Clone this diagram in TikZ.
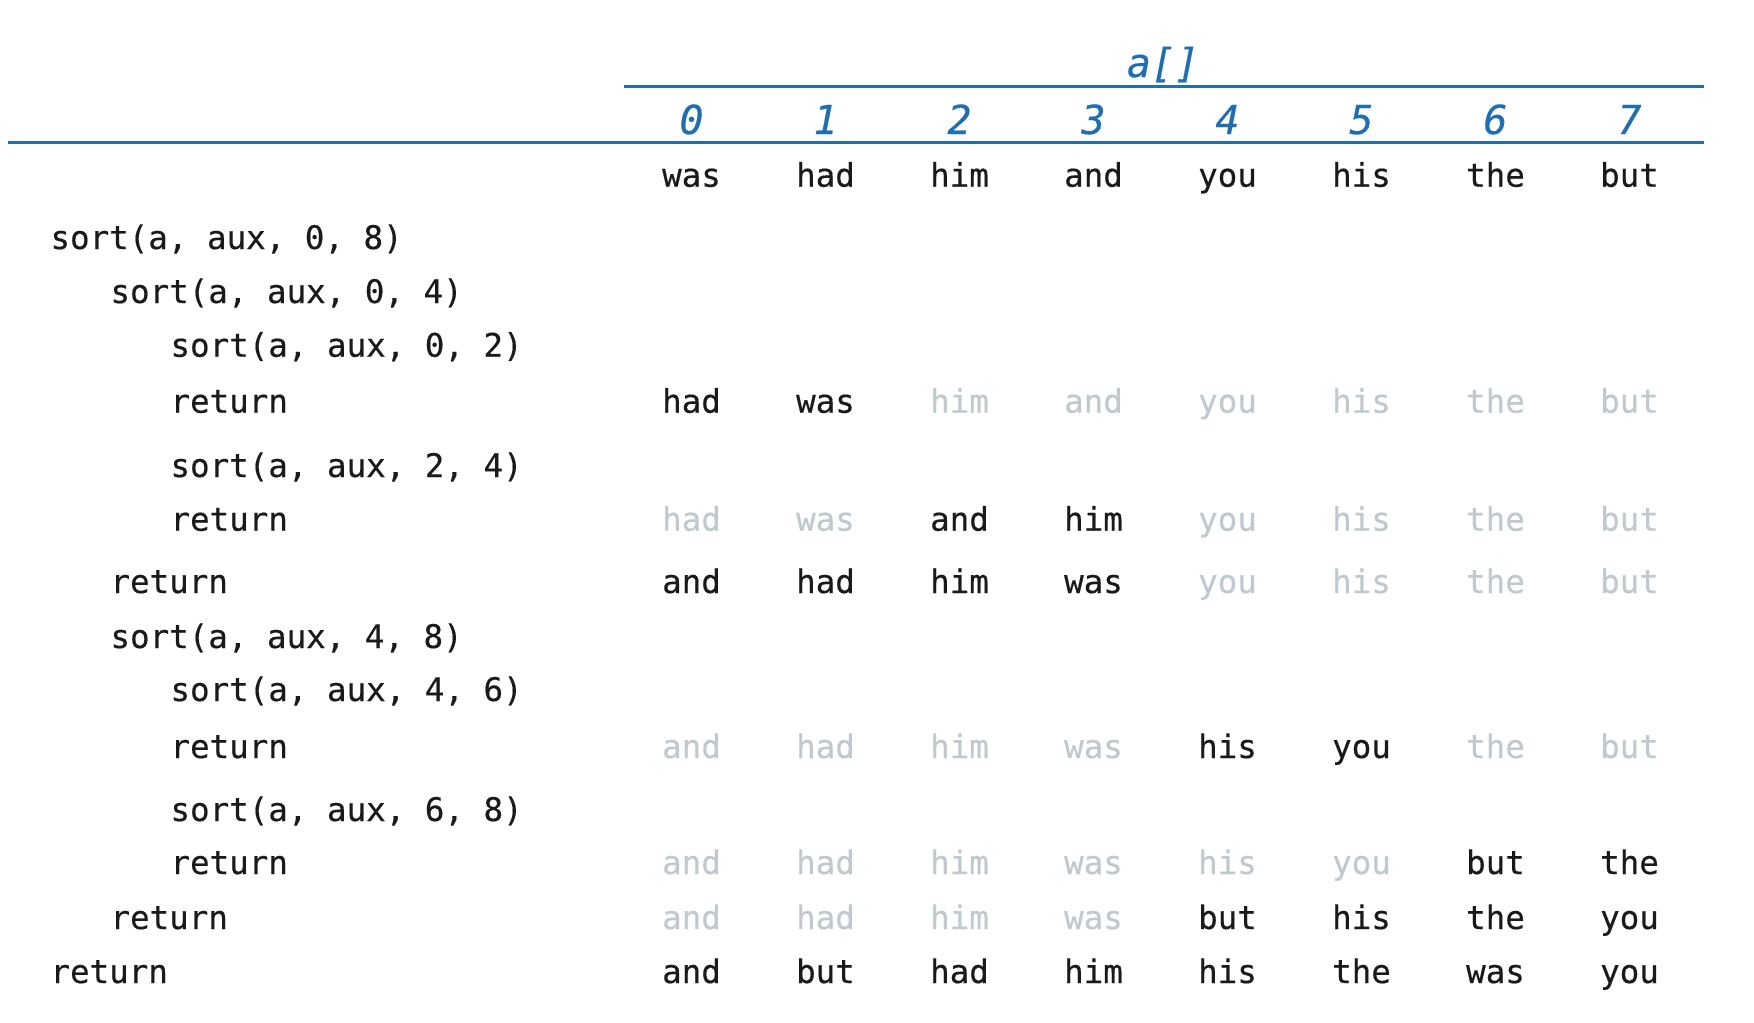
\documentclass[tikz,border=0pt]{standalone}
\usepackage{fontspec}
\setmonofont[FakeBold=0.4]{DejaVu Sans Mono}
\definecolor{idxblue}{RGB}{31,110,178}
\definecolor{faded}{RGB}{192,201,206}
\definecolor{ink}{RGB}{26,26,26}

% one row of a[]: name, baseline, first and last dark entry, entries
\newcommand{\wordrow}[5]{%
  \foreach \w [count=\i from 0] in {#5} {
    \ifnum\i<#3\relax \def\wcol{faded}\else
      \ifnum\i>#4\relax \def\wcol{faded}\else \def\wcol{ink}\fi\fi
    \node[word,text=\wcol] (#1-\i) at ({691.5+134*\i},#2) {\w};
  }}

\begin{document}
\begin{tikzpicture}[x=0.4pt,y=-0.4pt,
  word/.style={anchor=base,inner sep=0pt,font=\ttfamily\fontsize{13}{15}\selectfont},
  call/.style={anchor=base west,inner sep=0pt,text=ink,font=\ttfamily\fontsize{13}{15}\selectfont},
  index/.style={anchor=base,inner sep=0pt,text=idxblue,font=\ttfamily\itshape\fontsize{16}{18}\selectfont},
  rule/.style={draw=idxblue,line width=1.2pt}]
\useasboundingbox (0,0) rectangle (1754,1022);

% header
\node[index] (arr) at (1163,77) {a[]};
\coordinate (topL) at (624,86);
\coordinate (topR) at (1704,86);
\coordinate (botL) at (8,142);
\coordinate (botR) at (1704,142);
\draw[rule] (topL) -- (topR);
\draw[rule] (botL) -- (botR);
\foreach \i in {0,...,7}
  \node[index] (idx\i) at ({691.5+134*\i},134) {\i};

% calls
\node[call] (c1) at (50,249) {sort(a, aux, 0, 8)};
\node[call] (c2) at (110,303) {sort(a, aux, 0, 4)};
\node[call] (c3) at (170,356.7) {sort(a, aux, 0, 2)};
\node[call] (c4) at (170,412.7) {return};
\node[call] (c5) at (170,477) {sort(a, aux, 2, 4)};
\node[call] (c6) at (170,530.7) {return};
\node[call] (c7) at (110,593) {return};
\node[call] (c8) at (110,648) {sort(a, aux, 4, 8)};
\node[call] (c9) at (170,701) {sort(a, aux, 4, 6)};
\node[call] (c10) at (170,758) {return};
\node[call] (c11) at (170,821) {sort(a, aux, 6, 8)};
\node[call] (c12) at (170,874) {return};
\node[call] (c13) at (110,929) {return};
\node[call] (c14) at (50,983) {return};

% contents of a[]
\wordrow{r0}{186.7}{0}{7}{was,had,him,and,you,his,the,but}
\wordrow{r1}{412.7}{0}{1}{had,was,him,and,you,his,the,but}
\wordrow{r2}{530.7}{2}{3}{had,was,and,him,you,his,the,but}
\wordrow{r3}{593}{0}{3}{and,had,him,was,you,his,the,but}
\wordrow{r4}{758}{4}{5}{and,had,him,was,his,you,the,but}
\wordrow{r5}{874}{6}{7}{and,had,him,was,his,you,but,the}
\wordrow{r6}{929}{4}{7}{and,had,him,was,but,his,the,you}
\wordrow{r7}{983}{0}{7}{and,but,had,him,his,the,was,you}
\end{tikzpicture}
\end{document}
